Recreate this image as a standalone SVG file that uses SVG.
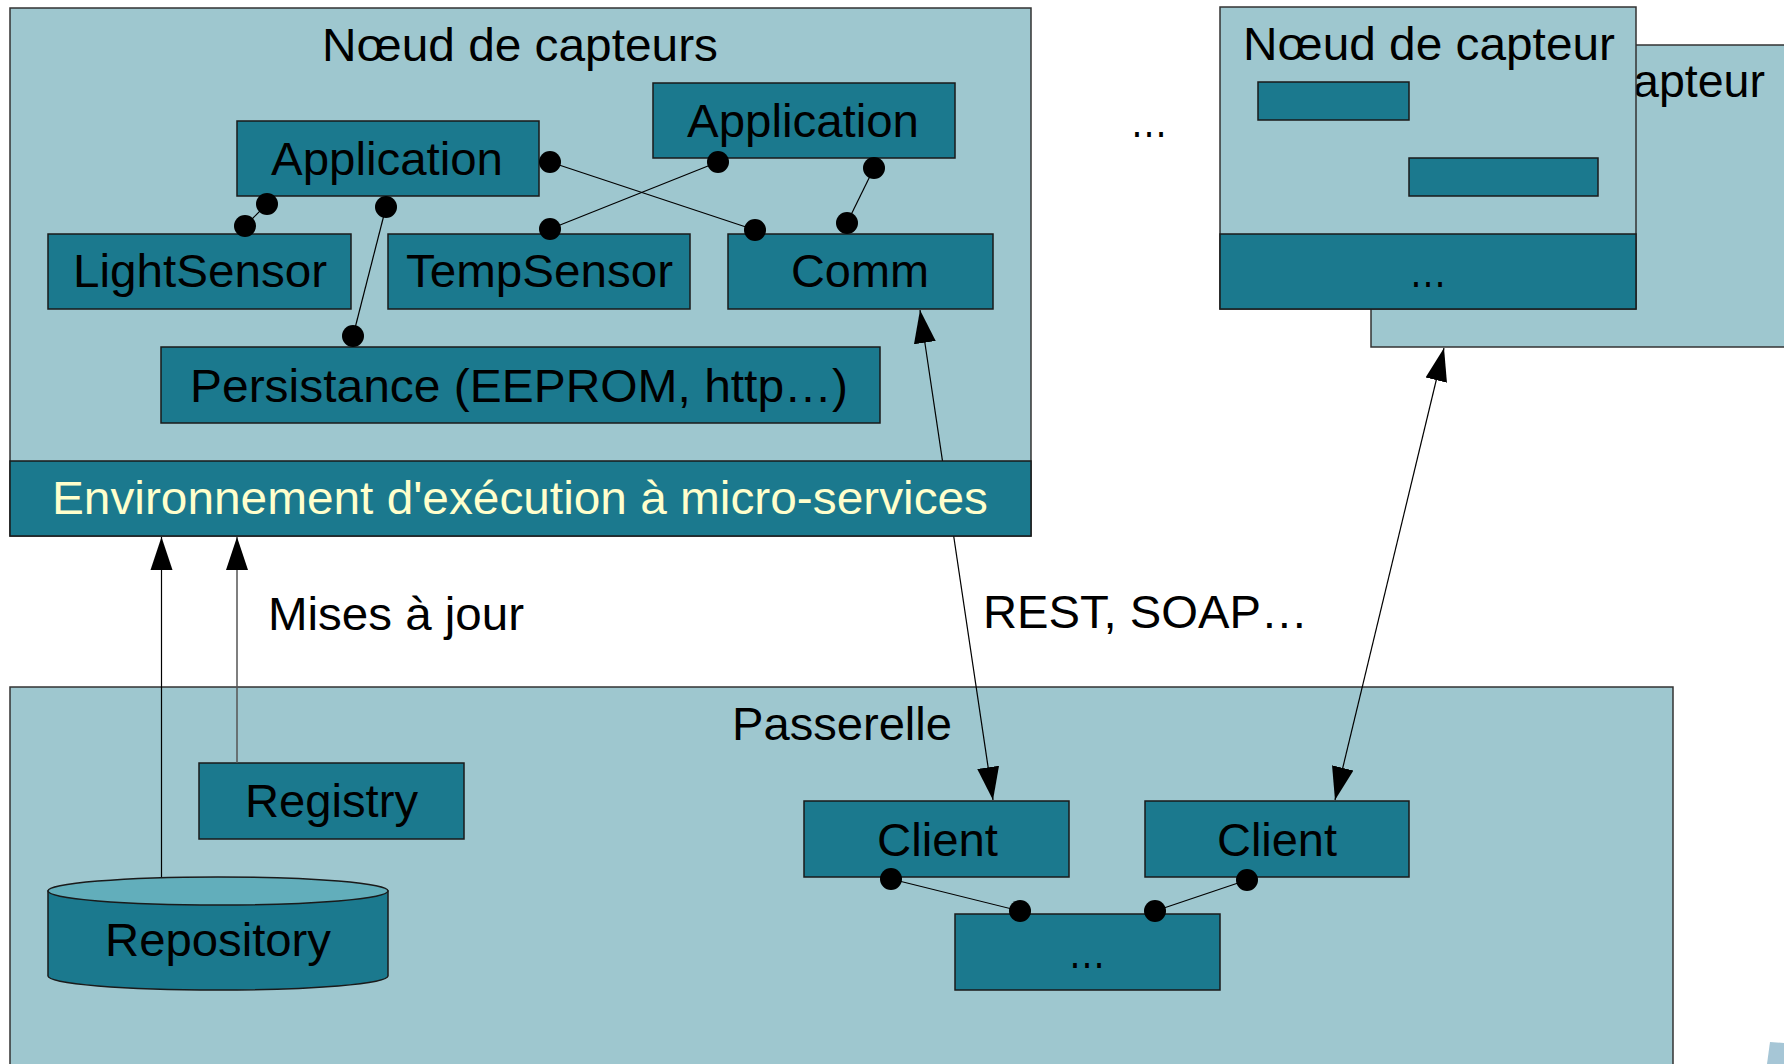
<svg xmlns="http://www.w3.org/2000/svg" width="1784" height="1064" viewBox="0 0 1784 1064">
<defs>
<style>
.light{fill:#9ec7cf;stroke:#333;stroke-width:1.5}
.dark{fill:#1b798e;stroke:#1a1a1a;stroke-width:1.5}
text{font-family:"Liberation Sans",Arial,sans-serif;font-size:47px;fill:#000}
.env{fill:#ffffcc}
.ln{stroke:#000;stroke-width:1.2;fill:none}
.dot{fill:#000}
</style>
<marker id="ah" markerUnits="userSpaceOnUse" markerWidth="34" markerHeight="24" refX="33" refY="11" orient="auto-start-reverse" viewBox="0 0 34 22">
<path d="M0,0 L33,11 L0,22 Z" fill="#000"/>
</marker>
</defs>
<rect width="1784" height="1064" fill="#fff"/>

<g id="node-capteurs">
<rect class="light" x="10" y="8" width="1021" height="528"/>
<text x="322" y="61" textLength="396" lengthAdjust="spacingAndGlyphs">Nœud de capteurs</text>
</g>
<g id="passerelle">
<rect class="light" x="10" y="687" width="1663" height="400"/>
<text x="732" y="740" textLength="220" lengthAdjust="spacingAndGlyphs">Passerelle</text>
</g>
<g id="node-capteur-back">
<rect class="light" x="1371" y="45" width="430" height="302"/>
<text x="1633" y="97" textLength="132" lengthAdjust="spacingAndGlyphs">apteur</text>
</g>
<g id="node-capteur-front">
<rect class="light" x="1220" y="7" width="416" height="302"/>
<text x="1243" y="60" textLength="372" lengthAdjust="spacingAndGlyphs">Nœud de capteur</text>
<rect class="dark" x="1258" y="82" width="151" height="38"/>
<rect class="dark" x="1409" y="158" width="189" height="38"/>
<rect class="dark" x="1220" y="234" width="416" height="75"/>
<text x="1409" y="287" textLength="38" lengthAdjust="spacingAndGlyphs">…</text>
</g>
<g id="app1"><rect class="dark" x="237" y="121" width="302" height="75"/><text x="271" y="175" textLength="232" lengthAdjust="spacingAndGlyphs">Application</text></g>
<g id="app2"><rect class="dark" x="653" y="83" width="302" height="75"/><text x="687" y="137" textLength="232" lengthAdjust="spacingAndGlyphs">Application</text></g>
<g id="lightsensor"><rect class="dark" x="48" y="234" width="303" height="75"/><text x="73" y="287" textLength="254" lengthAdjust="spacingAndGlyphs">LightSensor</text></g>
<g id="tempsensor"><rect class="dark" x="388" y="234" width="302" height="75"/><text x="406" y="287" textLength="267" lengthAdjust="spacingAndGlyphs">TempSensor</text></g>
<g id="comm"><rect class="dark" x="728" y="234" width="265" height="75"/><text x="791" y="287" textLength="138" lengthAdjust="spacingAndGlyphs">Comm</text></g>
<g id="persistance"><rect class="dark" x="161" y="347" width="719" height="76"/><text x="190" y="402" textLength="658" lengthAdjust="spacingAndGlyphs">Persistance (EEPROM, http…)</text></g>
<g id="registry"><rect class="dark" x="199" y="763" width="265" height="76"/><text x="245" y="817" textLength="173" lengthAdjust="spacingAndGlyphs">Registry</text></g>
<g id="repository">
<path class="dark" d="M48,891 L48,976 A170,14 0 0 0 388,976 L388,891 Z"/>
<ellipse cx="218" cy="891" rx="170" ry="14" fill="#62aebb" stroke="#1a1a1a" stroke-width="1.5"/>
<text x="105" y="956" textLength="226" lengthAdjust="spacingAndGlyphs">Repository</text>
</g>
<g id="client1"><rect class="dark" x="804" y="801" width="265" height="76"/><text x="877" y="856" textLength="121" lengthAdjust="spacingAndGlyphs">Client</text></g>
<g id="client2"><rect class="dark" x="1145" y="801" width="264" height="76"/><text x="1217" y="856" textLength="120" lengthAdjust="spacingAndGlyphs">Client</text></g>
<g id="gw-etc"><rect class="dark" x="955" y="914" width="265" height="76"/><text x="1068" y="968" textLength="38" lengthAdjust="spacingAndGlyphs">…</text></g>

<g id="labels">
<text x="1130" y="137" textLength="38" lengthAdjust="spacingAndGlyphs">…</text>
<text x="268" y="630" textLength="256" lengthAdjust="spacingAndGlyphs">Mises à jour</text>
<text x="983" y="628" textLength="325" lengthAdjust="spacingAndGlyphs">REST, SOAP…</text>
</g>

<g id="connectors">
<line class="ln" x1="550" y1="162" x2="755" y2="230"/>
<line class="ln" x1="718" y1="162" x2="550" y2="229"/>
<line class="ln" x1="874" y1="168" x2="847" y2="223"/>
<line class="ln" x1="267" y1="204" x2="245" y2="226"/>
<line class="ln" x1="386" y1="207" x2="353" y2="336"/>
<line class="ln" x1="891" y1="879" x2="1020" y2="911"/>
<line class="ln" x1="1247" y1="880" x2="1155" y2="911"/>
<circle class="dot" cx="550" cy="162" r="11"/>
<circle class="dot" cx="755" cy="230" r="11"/>
<circle class="dot" cx="718" cy="162" r="11"/>
<circle class="dot" cx="550" cy="229" r="11"/>
<circle class="dot" cx="874" cy="168" r="11"/>
<circle class="dot" cx="847" cy="223" r="11"/>
<circle class="dot" cx="267" cy="204" r="11"/>
<circle class="dot" cx="245" cy="226" r="11"/>
<circle class="dot" cx="386" cy="207" r="11"/>
<circle class="dot" cx="353" cy="336" r="11"/>
<circle class="dot" cx="891" cy="879" r="11"/>
<circle class="dot" cx="1020" cy="911" r="11"/>
<circle class="dot" cx="1247" cy="880" r="11"/>
<circle class="dot" cx="1155" cy="911" r="11"/>
<line class="ln" x1="920" y1="310" x2="993" y2="800" marker-start="url(#ah)" marker-end="url(#ah)"/>
<line class="ln" x1="1444" y1="348" x2="1335" y2="800" marker-start="url(#ah)" marker-end="url(#ah)"/>
<line class="ln" x1="161.5" y1="877" x2="161.5" y2="537" marker-end="url(#ah)"/>
<line x1="237" y1="763" x2="237" y2="537" stroke="#555" stroke-width="1.5" marker-end="url(#ah)"/>
</g>

<g id="env-bar">
<rect class="dark" x="10" y="461" width="1021" height="75"/>
<text class="env" x="52" y="514" textLength="936" lengthAdjust="spacingAndGlyphs">Environnement d'exécution à micro-services</text>
</g>
<polygon points="1770,1042 1784,1043 1784,1064 1767,1064" fill="#a6c6d6"/>
</svg>
